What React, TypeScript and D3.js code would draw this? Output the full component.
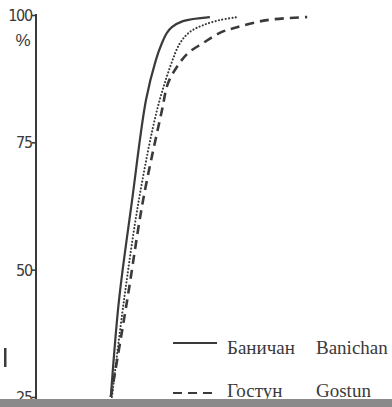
import { useEffect, useRef } from 'react';
import * as d3 from 'd3';

const W = 392;
const H = 407;

// cumulative percentage curves (x in arbitrary size units, y in %)
const banichan: [number, number][] = [
  [20.8, 25.0], [23.1, 44.0], [26.8, 63.7], [30.7, 83.3], [33.5, 91.2],
  [35.2, 94.5], [36.6, 96.5], [38.0, 97.6], [41.1, 98.8], [48.7, 99.6],
];
const middle: [number, number][] = [
  [21.1, 25.0], [24.5, 44.0], [28.7, 63.7], [33.8, 81.3], [37.5, 89.8],
  [40.3, 94.5], [43.1, 96.7], [46.8, 98.0], [51.5, 99.0], [56.6, 99.6],
];
const gostun: [number, number][] = [
  [20.8, 25.0], [25.4, 44.0], [29.9, 63.7], [35.2, 81.3], [36.9, 86.6],
  [39.4, 89.8], [42.5, 92.5], [46.8, 94.5], [51.5, 96.5], [56.3, 97.6],
  [64.8, 99.0], [76.1, 99.6],
];
const yTicks = [25, 50, 75, 100];
const legendRows = [
  { ru: 'Баничан', en: 'Banichan', dash: null as string | null },
  { ru: 'Гостун', en: 'Gostun', dash: '9,6' },
];

const INK = '#3a3a3a';

export default function App() {
  const ref = useRef<SVGSVGElement>(null);

  useEffect(() => {
    if (!ref.current) return;
    const svg = d3.select(ref.current);
    svg.selectAll('*').remove();

    const x = d3.scaleLinear().domain([0, 100]).range([37, 392]);
    const y = d3.scaleLinear().domain([25, 100]).range([397, 15]);

    svg.append('rect').attr('width', W).attr('height', H).attr('fill', '#fff');

    // y axis
    const axis = d3.axisLeft(y).tickValues(yTicks).tickSize(4).tickFormat(() => '');
    const ag = svg.append('g').attr('transform', 'translate(36,0)').call(axis);
    ag.select('.domain').remove();
    ag.selectAll('.tick line').attr('stroke', INK).attr('stroke-width', 1.6);
    svg.append('line')
      .attr('x1', 36).attr('x2', 36).attr('y1', y(100) - 1).attr('y2', H)
      .attr('stroke', INK).attr('stroke-width', 2);

    svg.selectAll('.ylab').data(yTicks).enter().append('text')
      .attr('class', 'ylab')
      .attr('x', 32).attr('y', d => y(d) + 6)
      .attr('text-anchor', 'end')
      .attr('font-family', '"Liberation Sans Narrow", "DejaVu Sans Condensed", sans-serif')
      .attr('font-size', 16).attr('letter-spacing', -1.2)
      .attr('fill', INK)
      .text(d => d);
    svg.append('text').attr('x', 23).attr('y', 46).attr('text-anchor', 'middle')
      .attr('font-family', '"Liberation Sans Narrow", sans-serif').attr('font-size', 17)
      .attr('fill', INK).text('%');

    const line = d3.line<[number, number]>()
      .x(d => x(d[0])).y(d => y(d[1]))
      .curve(d3.curveCatmullRom.alpha(0.5));

    svg.append('path').attr('d', line(gostun)!)
      .attr('fill', 'none').attr('stroke', INK).attr('stroke-width', 2.6)
      .attr('stroke-dasharray', '9,6');
    svg.append('path').attr('d', line(middle)!)
      .attr('fill', 'none').attr('stroke', INK).attr('stroke-width', 2.1)
      .attr('stroke-linecap', 'round').attr('stroke-dasharray', '0.1,3.3');
    svg.append('path').attr('d', line(banichan)!)
      .attr('fill', 'none').attr('stroke', INK).attr('stroke-width', 2.2);

    // legend
    const rowsY = [343, 393];
    legendRows.forEach((r, i) => {
      const ly = rowsY[i];
      svg.append('line').attr('x1', 173).attr('x2', r.dash ? 214 : 217)
        .attr('y1', ly).attr('y2', ly)
        .attr('stroke', INK).attr('stroke-width', 2)
        .attr('stroke-dasharray', r.dash ?? null);
      svg.append('text').attr('x', 227).attr('y', ly + (i === 0 ? 11 : 4))
        .attr('font-family', '"Liberation Serif", serif').attr('font-size', 19)
        .attr('fill', INK).text(r.ru);
      svg.append('text').attr('x', 316).attr('y', ly + (i === 0 ? 11 : 4))
        .attr('font-family', '"Liberation Serif", serif').attr('font-size', 19)
        .attr('fill', INK).text(r.en);
    });

    // scan artefacts
    svg.append('rect').attr('x', 4).attr('y', 348).attr('width', 2.5).attr('height', 19).attr('fill', INK);
    svg.append('rect').attr('x', 0).attr('y', 399).attr('width', W).attr('height', H - 399).attr('fill', '#8a8a8a');
  }, []);

  return (
    <svg ref={ref} width={W} height={H}
      style={{ position: 'absolute', left: 0, top: 0, display: 'block' }} />
  );
}
